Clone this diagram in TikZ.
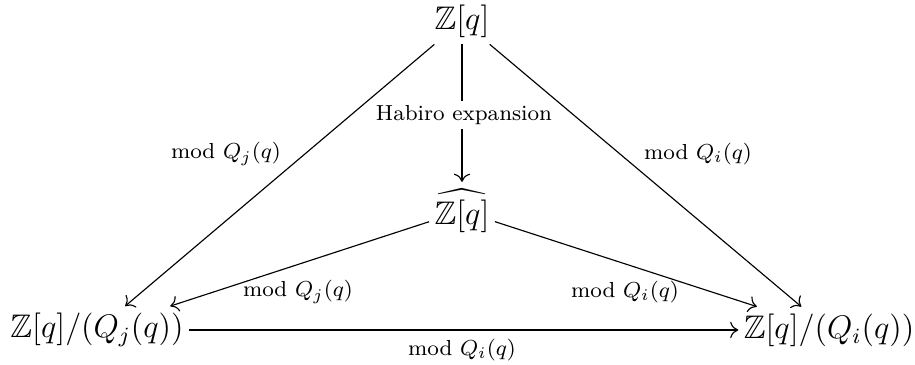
\documentclass[12pt,tikz,border=0pt]{standalone}
\usepackage{amssymb}
\usetikzlibrary{arrows.meta}
\begin{document}
\begin{tikzpicture}[x=0.3676pt,y=-0.3676pt,
  obj/.style={inner xsep=1.8pt, inner ysep=2.4pt},
  lbl/.style={font=\scriptsize, inner sep=1pt},
  arr/.style={-{To[length=3pt,width=6pt]}, line width=0.42pt}]
\useasboundingbox (0,0) rectangle (915,365);
\node[obj] (top) at (462,21) {$\mathbb{Z}[q]$};
\node[obj] (hat) at (462,211) {$\widehat{\mathbb{Z}[q]\rule{0pt}{9.4pt}}$};
\node[obj] (bl) at (97,330) {$\mathbb{Z}[q]/(Q_j(q))$};
\node[obj] (br) at (829,330) {$\mathbb{Z}[q]/(Q_i(q))$};
\draw[arr] (top) -- (hat);
\draw[arr] (top) -- (bl);
\draw[arr] (top) -- (br);
\draw[arr] (hat) -- (bl);
\draw[arr] (hat) -- (br);
\draw[arr] (bl) -- (br);
\node[lbl, fill=white, inner sep=1.5pt] (lh) at (464,115) {Habiro expansion};
\node[lbl] (l1) at (226,154) {mod $Q_j(q)$};
\node[lbl] (l2) at (698,154) {mod $Q_i(q)$};
\node[lbl] (l3) at (298,292) {mod $Q_j(q)$};
\node[lbl] (l4) at (625,292) {mod $Q_i(q)$};
\node[lbl] (l5) at (462,350) {mod $Q_i(q)$};
\end{tikzpicture}
\end{document}
